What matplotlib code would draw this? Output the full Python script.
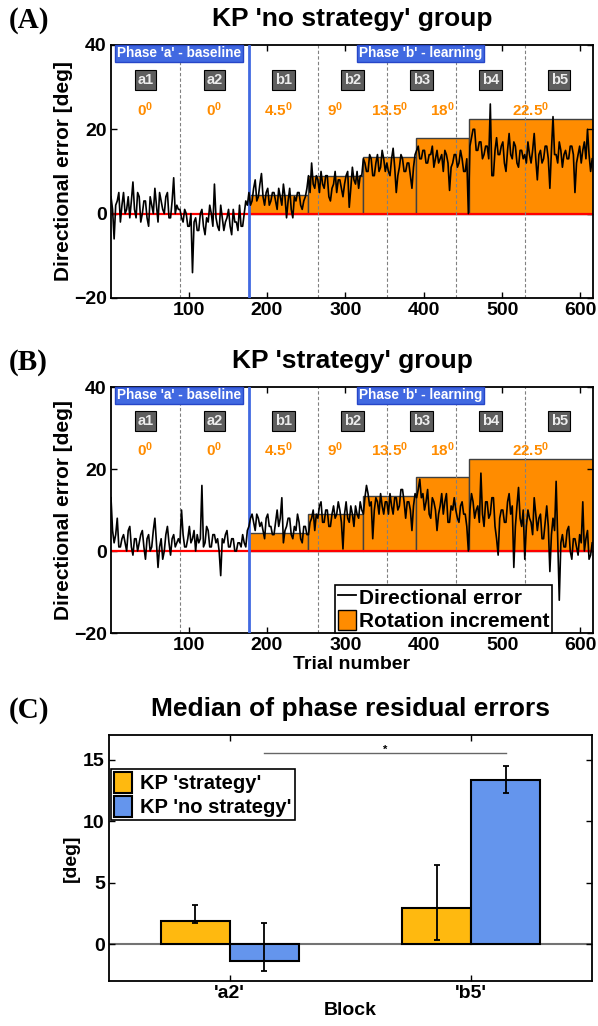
import numpy as np
import matplotlib
matplotlib.use("Agg")
import matplotlib.pyplot as plt
from matplotlib.patches import Patch
from matplotlib.lines import Line2D

plt.rcParams['font.family'] = ['Liberation Sans', 'DejaVu Sans']
plt.rcParams['font.weight'] = 'bold'
plt.rcParams['axes.labelweight'] = 'bold'
plt.rcParams['mathtext.fontset'] = 'custom'
plt.rcParams['mathtext.bf'] = 'Liberation Sans:bold'
plt.rcParams['mathtext.rm'] = 'Liberation Sans:bold'
plt.rcParams['mathtext.it'] = 'Liberation Sans:bold'

# blocks of 88 trials
block_names = ['a1', 'a2', 'b1', 'b2', 'b3', 'b4', 'b5']
block_len = 88
phase_b_start = 177

# rotation staircase (trial edges and rotation in deg)
rot_edges = [177, 252, 322, 390, 458, 616]
rot_values = [4.5, 9, 13.5, 18, 22.5]
rot_labels = ['4.5', '9', '13.5', '18', '22.5']

# directional error, one sample every 2 trials, per block
# KP 'no strategy'
ns_a1 = [4, 1, -6, 2, 3, 5, -2, 2, 5, 0, 1, 4, -1, 3, 7.5, 1, -1, 5, 4, -2, 0, 3,
         3, -1, -3, 4, 2, 0, 6, 2, -2, 5, 3, 1, 0, 4, 5, -1, -1, 3, 8.5, 0, 2, 1]
ns_a2 = [1, -1, -2, 1, 0, -3, -3, 0, -14, -2, -1, -4, -4, 0, 1, -3, -5, -1, -2, 2, 0, -3,
         7, -1, -3, -4, 2, -1, -4, -2, -1, 1, -3, -5, 1, -2, -2, -4, 2, -3, -3, 0, 3, 2]
ns_b1 = [5, 2, 3, 6, 8, 3, 4, 7, 9.5, 4, 2, 5, 6, 2, 3, 5, 5, 3, 1, 6, 4, 2,
         7, 4, -1, 3, 6, 1, -1, 4, 3, 5, 5, 2, 1, 3, 4, 6, 9, 5, 12, 7, 6, 9]
ns_b2 = [8, 5, 10, 7, 6, 9, 9, 4, 3, 6, 7, 10, 5, 8, 8, 6, 4, 7, 9, 10, 1.5, 6,
         11, 8, 7, 10, 6, 9, 9, 13, 12, 10, 10, 14, 13, 9, 9, 12, 14, 10, 11, 15, 13, 10]
ns_b3 = [12, 10, 9, 13, 15.5, 11, 5, 9, 11, 14, 13, 10, 10, 12, 12, 9, 6, 11, 14, 15, 16, 13,
         13, 15, 15, 12, 12, 14, 14, 16, 11, 13, 15, 12, 13, 14, 10, 15, 14, 12, 5.5, 11, 12, 14]
ns_b4 = [14, 11, 12, 15, 13, 10, 10, 13, 0, 16, 18, 20, 20, 15, 15, 17, 17, 13, 14, 16, 16, 13,
         26, 9, 9, 15, 18, 14, 14, 16, 17, 12, 10, 15, 19, 14, 13, 17, 16, 12, 11, 15, 15, 13]
ns_b5 = [14, 12, 17, 14, 12, 15, 19, 13, 8, 14, 15, 12, 13, 16, 16, 13, 6, 15, 23, 14, 14, 12,
         17, 15, 11, 14, 15, 13, 13, 16, 16, 14, 5, 12, 14, 16, 12, 15, 17, 13, 20, 14, 10, 13]

# KP 'strategy'
st_a1 = [13, 5, 2, 4, 8, 1, 1, 3, 4, 2, 0, 5, 6, 1, -1, 3, 3, 0, 2, 4, 5, 1,
         -2, 3, 4, 0, 1, 5, 8, 2, -4, 1, 3, -2, 0, 4, 6, 2, -1, 3, 4, 1, 2, 3]
st_a2 = [2, 10, 4, 1, 1, 3, 6, 2, 3, 5, 0, 4, 2, 3, 16, 1, 2, 6, 5, 1, 1, 4,
         4, 2, 3, 0, -6, 3, 2, 4, 5, 1, 1, 3, 3, 0, 0, 2, 2, 1, 4, 2, 1, 5]
st_b1 = [6, 8, 9, 7, 5, 9, 8, 6, 7, 5, 3, 8, 9, 6, 6, 4, 4, 7, 10, 6, 8, 13,
         2, 5, 6, 8, 8, 4, 3, 6, 5, 9, 7, 3, 2, 6, 6, 4, 4, 7, 8, 10, 5, 9]
st_b2 = [8, 11, 12, 7, 7, 10, 10, 6, 6, 9, 11, 8, 9, 12, 10, 7, 0.5, 9, 12, 8, 7, 11,
         9, 6, 11, 9, 8, 12, 10, 9, 13, 16, 14, 11, 12, 3, 10, 13, 12, 9, 14, 11, 9, 12]
st_b3 = [12, 9, 14, 11, 9, 13, 13, 10, 11, 15, 15, 12, 8, 12, 12, 10, 5, 11, 14, 13, 15, 17.5,
         13, 14, 10, 12, 15, 9, 8, 13, 12, 10, 5, 9, 11, 14, 9, 12, 14, 7, 7, 11, 10, 13]
st_b4 = [10, 8, 7, 11, 12, 9, 9, 6, 0, 10, 14, 12, 8, 10, 11, 7, 19, 9, 6, 12, 12, 8,
         9, 13, 13, 6, 3, -1, 8, 10, 10, 7, 7, 12, 14, 9, 11, -4, 6, 11, 15.5, 8, 6, 10]
st_b5 = [-2, 6, 10, 8, 7, 4, 13, 9, 5, 8, 9, 3, 3, 7, 11, 6, -5, 4, 8, 5, 17, 3,
         -12, 2, 4, 1, 1, 5, 6, 0, -2, 3, 3, 1, -1, 4, 2, 12, 0, 3, 5, -2, -1, 2]

# panel C: median residual errors
c_blocks = ["'a2'", "'b5'"]
strat_med = [1.9, 2.9]
strat_lo = [1.75, 0.3]
strat_hi = [3.15, 6.4]
nostrat_med = [-1.35, 13.3]
nostrat_lo = [-2.15, 12.3]
nostrat_hi = [1.75, 14.5]

ORANGE = '#FF8C00'
PHASE_BLUE = '#4169E1'


def trace_panel(ax, trace):
    trace = np.asarray(trace, dtype=float)
    trials = np.arange(1, 1 + 2 * len(trace), 2)
    ax.bar(rot_edges[:-1], rot_values, width=np.diff(rot_edges), align='edge',
           color=ORANGE, edgecolor='#404040', linewidth=1, zorder=1)
    ax.axhline(0, color='red', lw=1.6, zorder=2)
    starts = [1 + i * block_len for i in range(len(block_names))]
    for s in starts[1:]:
        if s != phase_b_start:
            ax.axvline(s, color='0.5', ls=(0, (3, 2)), lw=0.8, zorder=2)
    ax.axvline(phase_b_start, color=PHASE_BLUE, lw=2, zorder=3)
    ax.plot(trials, trace, color='k', lw=1.2, zorder=4)

    for s, name in zip(starts, block_names):
        ax.text(s + block_len / 2, 31.7, name, ha='center', va='center',
                color='#ececec', fontsize=10.5, fontweight='bold', zorder=5,
                bbox=dict(boxstyle='square,pad=0.18', fc='#5e5e5e', ec='k', lw=0.8))
    for s in starts[:2]:
        ax.text(s + block_len / 2, 24.6, r'$\mathbf{0^0}$', ha='center', va='center',
                color=ORANGE, fontsize=11, zorder=5)
    for i, lab in enumerate(rot_labels):
        xc = (rot_edges[i] + rot_edges[i + 1]) / 2
        ax.text(xc, 24.6, r'$\mathbf{%s^0}$' % lab, ha='center', va='center',
                color=ORANGE, fontsize=11, zorder=5)

    box = dict(boxstyle='square,pad=0.12', fc=PHASE_BLUE, ec='#2646c8', lw=1)
    ax.text(88, 38, "Phase 'a' - baseline", ha='center', va='center', color='white',
            fontsize=9.8, fontweight='bold', bbox=box, zorder=6)
    ax.text(396, 38, "Phase 'b' - learning", ha='center', va='center', color='white',
            fontsize=9.8, fontweight='bold', bbox=box, zorder=6)

    ax.set_xlim(1, 616)
    ax.set_ylim(-20, 40)
    ax.set_xticks([100, 200, 300, 400, 500, 600])
    ax.set_yticks([-20, 0, 20, 40])
    ax.tick_params(direction='in', top=True, right=True, labelsize=14, width=1, length=4, pad=3)
    for sp in ax.spines.values():
        sp.set_linewidth(1.3)
    ax.set_ylabel('Directional error [deg]', fontsize=15)
    ax.yaxis.set_label_coords(-0.078, 0.5)


fig = plt.figure(figsize=(5.98, 10.26), dpi=100)
axA = fig.add_axes([0.1856, 0.7096, 0.806, 0.2466])
axB = fig.add_axes([0.1856, 0.383, 0.806, 0.2398])
axC = fig.add_axes([0.1823, 0.0439, 0.8077, 0.2398])

trace_panel(axA, ns_a1 + ns_a2 + ns_b1 + ns_b2 + ns_b3 + ns_b4 + ns_b5)
trace_panel(axB, st_a1 + st_a2 + st_b1 + st_b2 + st_b3 + st_b4 + st_b5)
axB.set_xlabel('Trial number', fontsize=14, labelpad=1)

leg_handles = [Line2D([], [], color='k', lw=1.3),
               Patch(facecolor=ORANGE, edgecolor='k', lw=1)]
legB = axB.legend(leg_handles, ['Directional error', 'Rotation increment'],
                  loc='lower right', bbox_to_anchor=(0.915, 0.0), borderaxespad=0,
                  fontsize=15, frameon=True, fancybox=False, framealpha=1,
                  edgecolor='k', handlelength=0.9, handleheight=1.1, handletextpad=0.15,
                  borderpad=0.1, labelspacing=0.1)
legB.get_frame().set_linewidth(1.2)
legB.set_zorder(10)

# panel C
x = np.arange(1, len(c_blocks) + 1)
w = 0.286
STRAT = '#FFB90F'
NOSTRAT = '#6495ED'
axC.axhline(0, color='0.45', lw=1.5, zorder=1)
axC.bar(x - w / 2, strat_med, width=w, color=STRAT, edgecolor='k', lw=1.5, zorder=2,
        label="KP 'strategy'")
axC.bar(x + w / 2, nostrat_med, width=w, color=NOSTRAT, edgecolor='k', lw=1.5, zorder=2,
        label="KP 'no strategy'")
sm = np.array(strat_med)
nm = np.array(nostrat_med)
axC.errorbar(x - w / 2, sm, yerr=[sm - np.array(strat_lo), np.array(strat_hi) - sm],
             fmt='none', ecolor='k', elinewidth=1.3, capsize=2, capthick=1.3, zorder=3)
axC.errorbar(x + w / 2, nm, yerr=[nm - np.array(nostrat_lo), np.array(nostrat_hi) - nm],
             fmt='none', ecolor='k', elinewidth=1.3, capsize=2, capthick=1.3, zorder=3)
axC.plot([x[0] + w / 2, x[1] + w / 2], [15.5, 15.5], color='0.4', lw=1, zorder=3)
axC.text((x[0] + x[1]) / 2 + w / 2, 15.75, '*', ha='center', va='center', fontsize=8)

axC.set_xlim(0.5, 2.5)
axC.set_ylim(-3, 17)
axC.set_xticks(x)
axC.set_xticklabels(c_blocks)
axC.set_yticks([0, 5, 10, 15])
axC.tick_params(direction='in', top=True, right=True, labelsize=14, width=1, length=4, pad=3)
for sp in axC.spines.values():
    sp.set_linewidth(1.3)
axC.set_ylabel('[deg]', fontsize=14)
axC.yaxis.set_label_coords(-0.06, 0.5)
axC.set_xlabel('Block', fontsize=14, labelpad=0)
legC = axC.legend(loc='upper left', bbox_to_anchor=(0.004, 0.862), borderaxespad=0,
                  fontsize=14.5, frameon=True, fancybox=False, framealpha=1, edgecolor='k',
                  handlelength=0.9, handleheight=1.2, handletextpad=0.4,
                  borderpad=0.15, labelspacing=0.15)
legC.get_frame().set_linewidth(1.2)

# titles and panel letters
for ax, title in [(axA, "KP 'no strategy' group"), (axB, "KP 'strategy' group"),
                  (axC, "Median of phase residual errors")]:
    pos = ax.get_position()
    fig.text(pos.x0 + pos.width / 2, pos.y1 + 0.025, title, ha='center', va='center',
             fontsize=19, fontweight='bold')
for ax, letter in [(axA, '(A)'), (axB, '(B)'), (axC, '(C)')]:
    pos = ax.get_position()
    fig.text(0.015, pos.y1 + 0.024, letter, ha='left', va='center', fontsize=21,
             fontweight='bold', family=['Liberation Serif', 'DejaVu Serif'])

fig.savefig('out.png', dpi=100)
